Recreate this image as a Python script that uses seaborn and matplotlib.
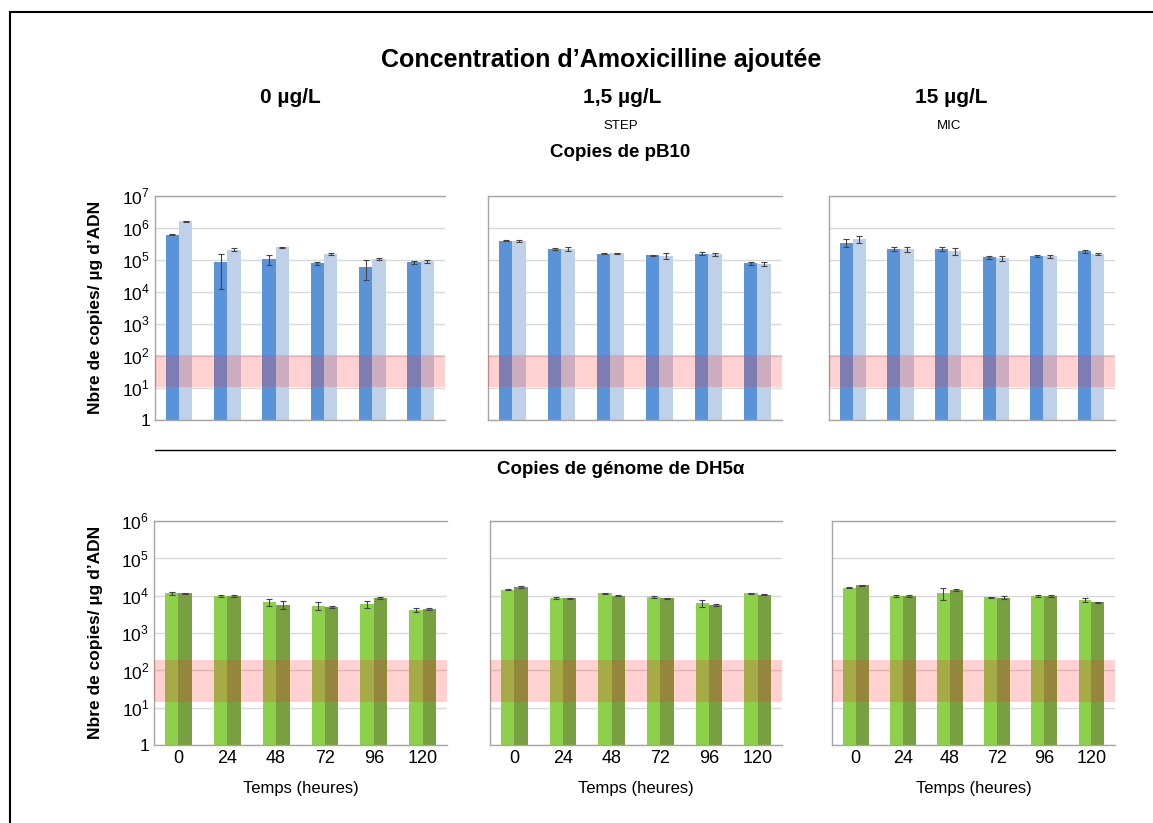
import numpy as np
import pandas as pd
import seaborn as sns
import matplotlib.pyplot as plt
from matplotlib.lines import Line2D

sns.set_style("white")
plt.rcParams['font.family'] = ['Liberation Sans', 'DejaVu Sans']
plt.rcParams['mathtext.fontset'] = 'custom'
plt.rcParams['mathtext.rm'] = 'Liberation Sans'
for k in ['text.color', 'axes.labelcolor', 'xtick.color', 'ytick.color']:
    plt.rcParams[k] = 'black'

# time points (hours)
temps = ['0', '24', '48', '72', '96', '120']
concentrations = ['0 µg/L', '1,5 µg/L', '15 µg/L']
sous_titres = ['', 'STEP', 'MIC']

# pB10 copies per µg DNA, two replicates (dark / light blue)
pb10_a = [[6.2e5, 8.5e4, 1.07e5, 7.9e4, 6.2e4, 8.5e4],
          [4.0e5, 2.25e5, 1.58e5, 1.4e5, 1.58e5, 7.9e4],
          [3.5e5, 2.2e5, 2.2e5, 1.2e5, 1.35e5, 1.9e5]]
pb10_b = [[1.6e6, 2.1e5, 2.5e5, 1.5e5, 1.07e5, 9.3e4],
          [4.0e5, 2.25e5, 1.6e5, 1.35e5, 1.5e5, 7.5e4],
          [4.5e5, 2.2e5, 1.9e5, 1.15e5, 1.3e5, 1.55e5]]
pb10_a_err = [[3e4, 7.3e4, 3.5e4, 1e4, 3.8e4, 1e4],
              [2e4, 2e4, 8e3, 5e3, 1.5e4, 1e4],
              [1e5, 3e4, 3e4, 1.5e4, 8e3, 2e4]]
pb10_b_err = [[1e5, 2e4, 1e4, 1e4, 1e4, 1e4],
              [3e4, 3e4, 8e3, 3e4, 1.5e4, 1e4],
              [1e5, 4e4, 5e4, 2e4, 1.5e4, 8e3]]

# DH5alpha genome copies per µg DNA (light / dark green)
dh5_a = [[1.15e4, 1.0e4, 6.6e3, 5.4e3, 6.0e3, 4.2e3],
         [1.45e4, 8.7e3, 1.15e4, 9.2e3, 6.3e3, 1.15e4],
         [1.65e4, 9.6e3, 1.2e4, 9.0e3, 9.8e3, 7.6e3]]
dh5_b = [[1.15e4, 9.6e3, 5.7e3, 4.9e3, 8.6e3, 4.3e3],
         [1.7e4, 8.5e3, 1.0e4, 8.5e3, 5.6e3, 1.05e4],
         [1.9e4, 9.6e3, 1.4e4, 8.8e3, 9.8e3, 6.6e3]]
dh5_a_err = [[8e2, 6e2, 1.3e3, 1.2e3, 1.2e3, 5e2],
             [6e2, 5e2, 4e2, 8e2, 1.2e3, 4e2],
             [5e2, 6e2, 4.5e3, 4e2, 6e2, 1e3]]
dh5_b_err = [[6e2, 6e2, 1.3e3, 3e2, 5e2, 3e2],
             [1e3, 4e2, 5e2, 4e2, 4e2, 4e2],
             [8e2, 6e2, 6e2, 7e2, 8e2, 3e2]]

# detection limit bands
band_top = (11, 105)
band_bot = (14, 185)

blue_dark, blue_light = '#5b93d9', '#bed1e8'
green_light, green_dark = '#8cd04c', '#789f42'

fig = plt.figure(figsize=(11.53, 8.23), dpi=100)

x_top = [(0.1344, 0.2515), (0.4232, 0.2550), (0.7190, 0.2480)]
x_bot = [(0.1336, 0.2541), (0.4250, 0.2533), (0.7216, 0.2455)]


def panel(pos, a, b, ea, eb, colors, ymax, band, show_y, show_x):
    ax = fig.add_axes(pos)
    df = pd.DataFrame({'temps': temps * 2,
                       'val': a + b,
                       'rep': ['a'] * 6 + ['b'] * 6})
    sns.barplot(data=df, x='temps', y='val', hue='rep', palette=colors,
                width=0.55, gap=0, errorbar=None, legend=False, ax=ax,
                saturation=1, linewidth=0, edgecolor='none', zorder=2)
    for cont, err in zip(ax.containers, [ea, eb]):
        xs = [p.get_x() + p.get_width() / 2 for p in cont]
        hs = [p.get_height() for p in cont]
        ax.errorbar(xs, hs, yerr=err, fmt='none', ecolor='#444444',
                    elinewidth=0.8, capsize=2.5, capthick=0.8, zorder=3)
    ax.set_yscale('log')
    ax.set_ylim(1, 10 ** ymax)
    ax.set_xlim(-0.5, 5.5)
    ax.axhspan(band[0], band[1], color='#ff3030', alpha=0.22, lw=0, zorder=4)
    ax.set_yticks([10 ** k for k in range(ymax + 1)])
    ax.minorticks_off()
    ax.yaxis.grid(True, color='#d9d9d9', lw=1, zorder=0)
    ax.set_axisbelow(True)
    for s in ['left', 'top', 'bottom']:
        ax.spines[s].set_color('#a6a6a6')
        ax.spines[s].set_linewidth(1)
    ax.spines['right'].set_visible(False)
    ax.tick_params(length=0)
    if show_y:
        labs = ['1'] + ['$10^{%d}$' % k for k in range(1, ymax + 1)]
        ax.set_yticklabels(labs, fontsize=12.5)
    else:
        ax.set_yticklabels([])
    if show_x:
        ax.set_xticklabels(temps, fontsize=13)
        ax.set_xlabel('Temps (heures)', fontsize=12, labelpad=10)
    else:
        ax.set_xticklabels([])
        ax.set_xlabel('')
    ax.set_ylabel('')
    return ax


for i in range(3):
    panel([x_top[i][0], 0.4897, x_top[i][1], 0.2722],
          pb10_a[i], pb10_b[i], pb10_a_err[i], pb10_b_err[i],
          [blue_dark, blue_light], 7, band_top, i == 0, False)
    panel([x_bot[i][0], 0.0948, x_bot[i][1], 0.2722],
          dh5_a[i], dh5_b[i], dh5_a_err[i], dh5_b_err[i],
          [green_light, green_dark], 6, band_bot, i == 0, True)

fig.text(0.521, 0.927, 'Concentration d\u2019Amoxicilline ajoutée',
         ha='center', va='center', fontsize=18, fontweight='bold')
for xc, t, st in zip([0.252, 0.540, 0.825], concentrations, sous_titres):
    fig.text(xc, 0.882, t, ha='center', va='center', fontsize=15,
             fontweight='bold')
    if st:
        fig.text(xc - 0.002, 0.847, st, ha='center', va='center', fontsize=9.5)
fig.text(0.538, 0.815, 'Copies de pB10', ha='center', va='center',
         fontsize=13.5, fontweight='bold')
fig.text(0.538, 0.429, 'Copies de génome de DH5α', ha='center',
         va='center', fontsize=13.5, fontweight='bold')

for yc in [0.626, 0.231]:
    fig.text(0.083, yc, 'Nbre de copies/ µg d\u2019ADN', rotation=90,
             ha='center', va='center', fontsize=12.5, fontweight='bold')

# separator and page frame
fig.add_artist(Line2D([0.134, 0.967], [0.453, 0.453], color='black', lw=1))
fig.add_artist(Line2D([0.009, 0.009], [0.0, 0.986], color='black', lw=1.5))
fig.add_artist(Line2D([0.009, 1.0], [0.986, 0.986], color='black', lw=1.5))

fig.savefig('out.png', dpi=100, facecolor='white')
